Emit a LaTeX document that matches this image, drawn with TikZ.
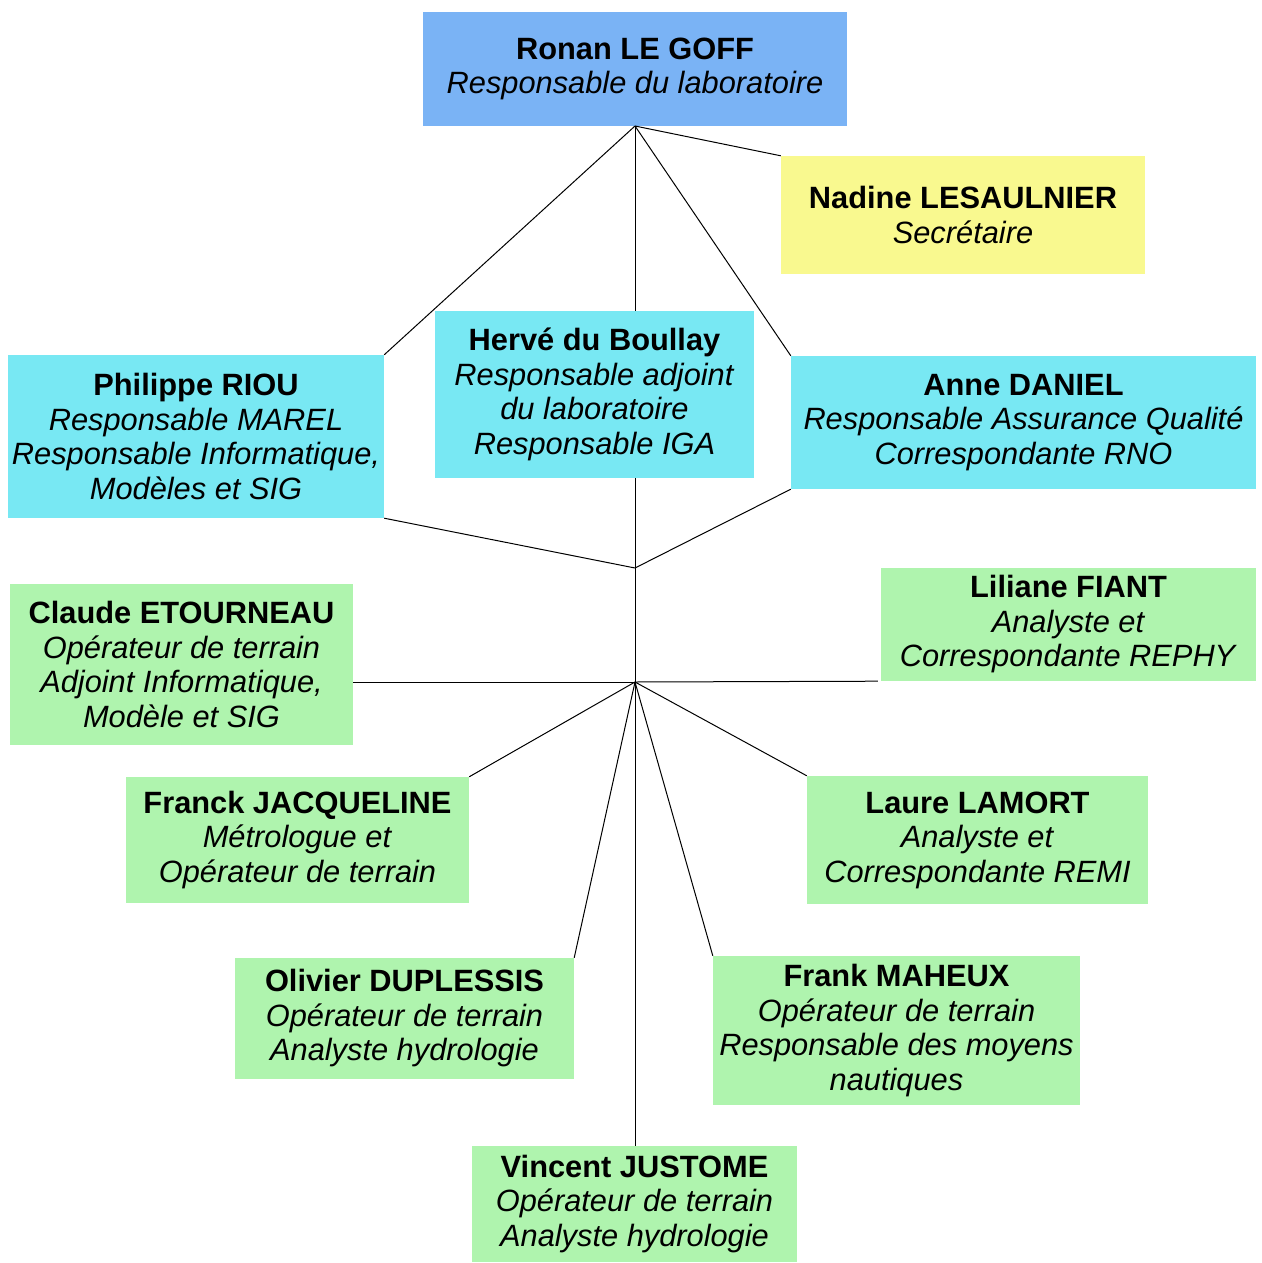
\documentclass[tikz,border=0pt]{standalone}
\usepackage{fontspec}
\setmainfont{Liberation Sans}
\definecolor{cblue}{RGB}{122,179,245}
\definecolor{cyellow}{RGB}{249,249,143}
\definecolor{ccyan}{RGB}{120,232,243}
\definecolor{cgreen}{RGB}{175,244,174}
\begin{document}
\begin{tikzpicture}[x=1pt,y=-1pt,
  box/.style={rectangle, inner sep=0pt, align=center, font=\fontsize{30.8}{34.5}\selectfont},
  conn/.style={line width=1pt, black}]
\useasboundingbox (0,0) rectangle (1261,1263);
\node[box, fill=cblue, minimum width=424pt, minimum height=114pt] (ronan) at (635,69)
  {\textbf{Ronan LE GOFF}\\\textit{Responsable du laboratoire}};
\node[box, fill=cyellow, minimum width=364pt, minimum height=118pt] (nadine) at (963,215)
  {\textbf{Nadine LESAULNIER}\\\textit{Secrétaire}};
\node[box, fill=ccyan, minimum width=376pt, minimum height=163pt] (philippe) at (196,436.5)
  {\textbf{Philippe RIOU}\\\textit{Responsable MAREL}\\\textit{Responsable Informatique,}\\\textit{Modèles et SIG}};
\node[box, fill=ccyan, minimum width=319pt, minimum height=167pt] (herve) at (594.5,394.5)
  {\textbf{Hervé du Boullay}\\\textit{Responsable adjoint}\\\textit{du laboratoire}\\\textit{Responsable IGA}};
\node[box, fill=ccyan, minimum width=465pt, minimum height=133pt] (anne) at (1023.5,422.5)
  {\textbf{Anne DANIEL}\\\textit{Responsable Assurance Qualité}\\\textit{Correspondante RNO}};
\node[box, fill=cgreen, minimum width=343pt, minimum height=161pt] (claude) at (181.5,664.5)
  {\textbf{Claude ETOURNEAU}\\\textit{Opérateur de terrain}\\\textit{Adjoint Informatique,}\\\textit{Modèle et SIG}};
\node[box, fill=cgreen, minimum width=375pt, minimum height=113pt] (liliane) at (1068.5,624.5)
  {\textbf{Liliane FIANT}\\\textit{Analyste et}\\\textit{Correspondante REPHY}};
\node[box, fill=cgreen, minimum width=343pt, minimum height=126pt] (franck) at (297.5,840)
  {\textbf{Franck JACQUELINE}\\\textit{Métrologue et}\\\textit{Opérateur de terrain}};
\node[box, fill=cgreen, minimum width=341pt, minimum height=128pt] (laure) at (977.5,840)
  {\textbf{Laure LAMORT}\\\textit{Analyste et}\\\textit{Correspondante REMI}};
\node[box, fill=cgreen, minimum width=339pt, minimum height=121pt] (olivier) at (404.5,1018.5)
  {\textbf{Olivier DUPLESSIS}\\\textit{Opérateur de terrain}\\\textit{Analyste hydrologie}};
\node[box, fill=cgreen, minimum width=367pt, minimum height=149pt] (frank) at (896.5,1030.5)
  {\textbf{Frank MAHEUX}\\\textit{Opérateur de terrain}\\\textit{Responsable des moyens}\\\textit{nautiques}};
\node[box, fill=cgreen, minimum width=325pt, minimum height=116pt] (vincent) at (634.5,1204)
  {\textbf{Vincent JUSTOME}\\\textit{Opérateur de terrain}\\\textit{Analyste hydrologie}};
\coordinate (top) at (635,126);
\coordinate (j1) at (635,568);
\coordinate (hub) at (635,682);
\draw[conn] (top) -- (nadine.north west);
\draw[conn] (top) -- (philippe.north east);
\draw[conn] (top) -- (top |- herve.north);
\draw[conn] (top) -- (anne.north west);
\draw[conn] (philippe.south east) -- (j1);
\draw[conn] (j1 |- herve.south) -- (j1);
\draw[conn] (anne.south west) -- (j1);
\draw[conn] (j1) -- (hub);
\draw[conn] (hub) -- (hub -| claude.east);
\draw[conn] (hub) -- ([xshift=-3pt]liliane.south west);
\draw[conn] (hub) -- (franck.north east);
\draw[conn] (hub) -- (laure.north west);
\draw[conn] (hub) -- (olivier.north east);
\draw[conn] (hub) -- (frank.north west);
\draw[conn] (hub) -- (hub |- vincent.north);
\end{tikzpicture}
\end{document}
